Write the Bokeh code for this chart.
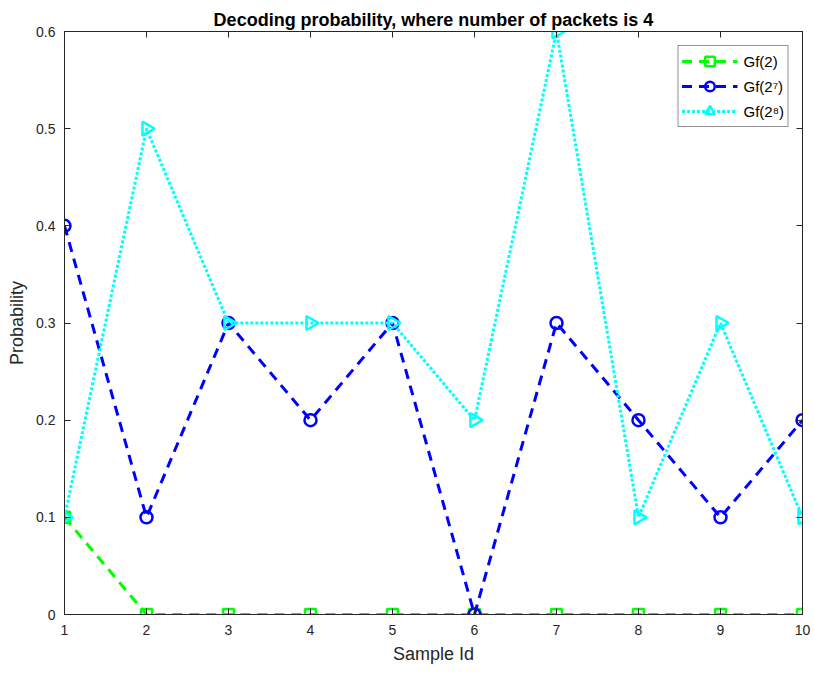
import math
from bokeh.plotting import figure
from bokeh.models import (Range1d, LinearAxis, FixedTicker, CustomJSTickFormatter,
                          Legend, LegendItem)
from bokeh.embed import file_html
from bokeh.resources import INLINE

sample_ids = [1, 2, 3, 4, 5, 6, 7, 8, 9, 10]
gf2 = [0.1, 0, 0, 0, 0, 0, 0, 0, 0, 0]
gf2_7 = [0.4, 0.1, 0.3, 0.2, 0.3, 0.0, 0.3, 0.2, 0.1, 0.2]
gf2_8 = [0.1, 0.5, 0.3, 0.3, 0.3, 0.2, 0.6, 0.1, 0.3, 0.1]
x_ticks = [1, 2, 3, 4, 5, 6, 7, 8, 9, 10]
y_ticks = [0, 0.1, 0.2, 0.3, 0.4, 0.5, 0.6]
labels = ["Gf(2)", "Gf(2\u2077)", "Gf(2\u2078)"]

FONT = "Liberation Sans"
AX = "#262626"

p = figure(width=814, height=673, output_backend="svg", toolbar_location=None,
           x_range=Range1d(1, 10), y_range=Range1d(0, 0.6),
           min_border_left=64, min_border_right=12, min_border_top=31,
           min_border_bottom=59, title="Decoding probability, where number of packets is 4")
p.title.align = "center"
p.title.text_font = FONT
p.title.text_font_size = "18px"
p.title.text_font_style = "bold"
p.title.text_color = "black"
p.title.standoff = 3
p.grid.visible = False
p.outline_line_color = AX
p.outline_line_width = 1

fmt = CustomJSTickFormatter(code="return tick == 0 ? '0' : tick.toFixed(1);")
blank = CustomJSTickFormatter(code="return '';")

bottom = p.below[0]
left = p.left[0]
bottom.ticker = FixedTicker(ticks=x_ticks)
bottom.axis_label = "Sample Id"
left.ticker = FixedTicker(ticks=y_ticks)
left.formatter = fmt
left.axis_label = "Probability"

top = LinearAxis(ticker=FixedTicker(ticks=x_ticks), formatter=blank)
right = LinearAxis(ticker=FixedTicker(ticks=y_ticks), formatter=blank)
p.add_layout(top, "above")
p.add_layout(right, "right")

for ax in [bottom, left, top, right]:
    ax.major_tick_in = 6
    ax.major_tick_out = 0
    ax.minor_tick_in = 0
    ax.minor_tick_out = 0
    ax.axis_line_color = AX
    ax.major_tick_line_color = AX
    ax.major_label_text_font = FONT
    ax.major_label_text_font_size = "14px"
    ax.major_label_text_color = AX
    ax.axis_label_text_font = FONT
    ax.axis_label_text_font_size = "18px"
    ax.axis_label_text_font_style = "normal"
    ax.axis_label_text_color = AX
for ax in [top, right]:
    ax.major_label_standoff = 0
    ax.axis_label = None

bottom.major_label_standoff = 10
bottom.axis_label_standoff = 6
left.major_label_standoff = 9
left.axis_label_standoff = 6

l1 = p.line(sample_ids, gf2, line_color="#00ff00", line_width=3, line_dash="10 7")
m1 = p.scatter(sample_ids, gf2, marker="square", size=11, line_color="#00ff00",
               line_width=2.5, fill_color=None)
l2 = p.line(sample_ids, gf2_7, line_color="#0000ff", line_width=3, line_dash="10 7")
m2 = p.scatter(sample_ids, gf2_7, marker="circle", size=12, line_color="#0000ff",
               line_width=2.5, fill_color=None)
l3 = p.line(sample_ids, gf2_8, line_color="#00ffff", line_width=3, line_dash="3 2")
m3 = p.scatter(sample_ids, gf2_8, marker="triangle", size=14, angle=-math.pi / 2,
               line_color="#00ffff", line_width=2.5, fill_color=None)

legend = Legend(items=[LegendItem(label=labels[0], renderers=[l1, m1]),
                       LegendItem(label=labels[1], renderers=[l2, m2]),
                       LegendItem(label=labels[2], renderers=[l3, m3])],
                location="top_right")
legend.label_text_font = FONT
legend.label_text_font_size = "15px"
legend.label_text_color = "black"
legend.glyph_width = 56
legend.glyph_height = 24
legend.label_height = 24
legend.spacing = 1
legend.padding = 3
legend.margin = 14
legend.border_line_color = AX
legend.border_line_width = 1
legend.label_standoff = 6
legend.background_fill_color = "white"
p.add_layout(legend)

open("out.html", "w").write(file_html(p, INLINE))
